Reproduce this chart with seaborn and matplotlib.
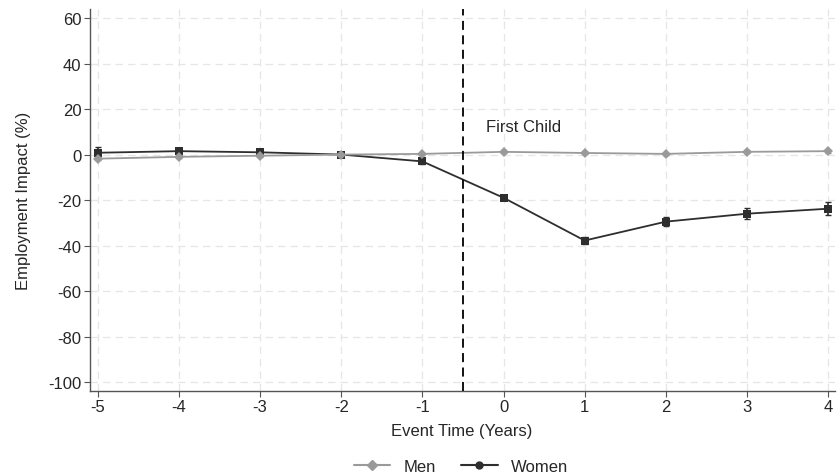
import seaborn as sns
import matplotlib.pyplot as plt
import pandas as pd

# event study: employment impact of first child
event_time = [-5, -4, -3, -2, -1, 0, 1, 2, 3, 4]
men = [-1.8, -1.0, -0.5, 0.0, 0.3, 1.2, 0.7, 0.3, 1.2, 1.5]
women = [0.8, 1.5, 1.0, 0.0, -3.0, -19.0, -37.8, -29.5, -26.0, -23.8]
men_ci = [0.6, 0.5, 0.5, 0.0, 0.4, 0.5, 0.5, 0.5, 0.6, 0.6]
women_ci = [2.5, 1.6, 1.3, 0.0, 1.0, 1.0, 1.5, 2.0, 2.3, 2.8]

df = pd.DataFrame({'time': event_time * 2,
                   'impact': men + women,
                   'ci': men_ci + women_ci,
                   'group': ['Men'] * len(men) + ['Women'] * len(women)})

sns.set_style('white')
plt.rcParams['font.family'] = ['Liberation Sans', 'DejaVu Sans']
plt.rcParams['axes.unicode_minus'] = False

fig = plt.figure(figsize=(8.38, 4.77), dpi=100)
ax = fig.add_axes([0.107, 0.178, 0.889, 0.801])

colors = {'Men': '#9a9a9a', 'Women': '#2e2e2e'}
marks = {'Men': 'D', 'Women': 's'}

for g in ['Women', 'Men']:
    d = df[df.group == g]
    ax.errorbar(d.time, d.impact, yerr=d.ci, fmt='none', ecolor=colors[g],
                elinewidth=1.2, capsize=2.5, zorder=3)

sns.lineplot(data=df, x='time', y='impact', hue='group', style='group',
             hue_order=['Women', 'Men'], palette=colors, markers=marks,
             dashes=False, markersize=5.5, markeredgewidth=0, linewidth=1.3,
             legend=False, ax=ax, zorder=4)

ax.axvline(-0.5, color='black', linestyle=(0, (5, 3)), linewidth=1.3, zorder=5)
ax.text(-0.22, 12.5, 'First Child', fontsize=12, ha='left', va='center')

ax.set_xlim(-5.1, 4.08)
ax.set_ylim(-104, 64)
ax.set_xticks(event_time)
ax.set_yticks(range(-100, 61, 20))
ax.grid(True, color='#e6e6e6', linestyle=(0, (6, 4)), linewidth=0.9)
ax.set_axisbelow(True)
ax.tick_params(axis='both', labelsize=12, direction='out', length=4,
               width=0.8, color='#555555', left=True, bottom=True, pad=2)
for s in ['top', 'right']:
    ax.spines[s].set_visible(False)
for s in ['left', 'bottom']:
    ax.spines[s].set_color('#555555')
    ax.spines[s].set_linewidth(1.0)
ax.set_xlabel('Event Time (Years)', fontsize=12, labelpad=6)
ax.set_ylabel('Employment Impact (%)', fontsize=12, labelpad=12)

handles = [plt.Line2D([], [], color=colors['Men'], marker='D', markersize=5, lw=1.5),
           plt.Line2D([], [], color=colors['Women'], marker='o', markersize=5, lw=1.5)]
fig.legend(handles, ['Men', 'Women'], loc='center', bbox_to_anchor=(0.55, 0.02),
           ncol=2, frameon=False, fontsize=12, handlelength=2.2, columnspacing=1.5)

fig.savefig('out.png', dpi=100)
